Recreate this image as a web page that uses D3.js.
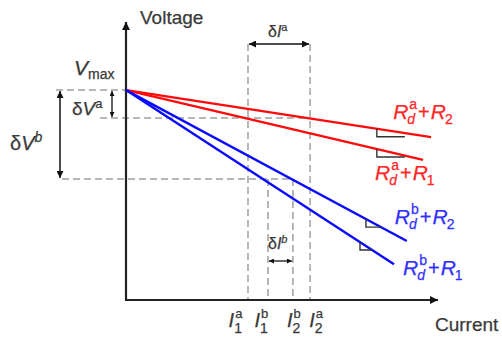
<!DOCTYPE html>
<html>
<head>
<meta charset="utf-8">
<script src="https://cdn.jsdelivr.net/npm/d3@7"></script>
<style>
  body { margin: 0; background: #fff; }
  svg { display: block; }
</style>
</head>
<body>
<svg id="chart"></svg>
<script>
// values (arbitrary units, current 0-10, voltage 0-10)
var tickSubs = ["1", "1", "2", "2"];
var tickSups = ["a", "b", "b", "a"];
var tickCurrents = [3.91, 4.55, 5.35, 5.90];     // I1a, I1b, I2b, I2a
var vMax = 7.55;
var vLevels = [6.55, 4.35];                       // Vmax - dVa, Vmax - dVb
var lineSups = ["a", "a", "b", "b"];
var lineSubs = ["2", "1", "2", "1"];
var lineColors = ["#ff0a0a", "#ff0a0a", "#0a0aff", "#0a0aff"];
var labelColors = ["#ff2626", "#ff2626", "#3030ff", "#3030ff"];
var lineEndCurrents = [9.78, 9.52, 9.00, 8.59];
var lineEndVoltages = [5.86, 5.04, 2.12, 1.29];
var markerCurrents = [8.04, 8.04, 7.69, 7.50];

// layout bits
var labelOffsets = [[-38, -18], [-48, 20], [-12, -17], [9, 11]];
var W = 502, H = 337;
var FONT = "'Liberation Sans', Arial, sans-serif";
var TXT = "#3a3a3a";

var svg = d3.select("#chart").attr("width", W).attr("height", H);
var x = d3.scaleLinear().domain([0, 10]).range([126, 438]);
var y = d3.scaleLinear().domain([0, 10]).range([300, 22]);

var defs = svg.append("defs");
function arrowMarker(id, w, h) {
  defs.append("marker")
      .attr("id", id)
      .attr("viewBox", "0 0 10 10")
      .attr("refX", 10).attr("refY", 5)
      .attr("markerUnits", "userSpaceOnUse")
      .attr("markerWidth", w).attr("markerHeight", h)
      .attr("orient", "auto-start-reverse")
    .append("path")
      .attr("d", "M0,0L10,5L0,10z")
      .attr("fill", "#111");
}
arrowMarker("axisHead", 11, 8);
arrowMarker("dHead", 8, 7);
arrowMarker("tinyHead", 6, 5);

// rich text: parts drawn one after another, "stack" puts a part above the previous one
function richText(g, px, py, parts, color) {
  var cursor = 0, prevStart = 0;
  parts.forEach(function(p){
    var start = p.stack ? prevStart : cursor;
    var t = g.append("text")
        .attr("x", px + start + (p.dx || 0))
        .attr("y", py + (p.dy || 0))
        .attr("font-family", FONT)
        .attr("font-size", p.size)
        .attr("font-style", p.italic ? "italic" : "normal")
        .attr("fill", color)
        .attr("stroke", color)
        .attr("stroke-width", 0.25)
        .text(p.t);
    var w = t.node().getComputedTextLength() + (p.dx || 0);
    if (!p.stack) prevStart = start;
    cursor = Math.max(cursor, start + w);
  });
  return cursor;
}

// dashed guides
var dash = svg.append("g")
    .attr("stroke", "#a0a0a0")
    .attr("stroke-width", 1.5)
    .attr("stroke-dasharray", "7,4")
    .attr("fill", "none");

var dVbX = 60, dVaX = 112, dIaY = 44, dIbY = 261;

dash.append("line")
    .attr("x1", dVbX - 4).attr("x2", x(0))
    .attr("y1", y(vMax)).attr("y2", y(vMax));
dash.append("line")
    .attr("x1", dVaX - 12).attr("x2", x(tickCurrents[3]))
    .attr("y1", y(vLevels[0])).attr("y2", y(vLevels[0]));
dash.append("line")
    .attr("x1", dVbX + 2).attr("x2", x(tickCurrents[2]))
    .attr("y1", y(vLevels[1])).attr("y2", y(vLevels[1]));

dash.selectAll("line.v")
    .data(tickCurrents)
    .enter().append("line")
    .attr("class", "v")
    .attr("x1", d => x(d)).attr("x2", d => x(d))
    .attr("y1", (d, i) => (i === 0 || i === 3) ? dIaY : y(vLevels[1]))
    .attr("y2", y(0));

// axes
svg.append("line")
    .attr("x1", x(0)).attr("y1", y(0))
    .attr("x2", x(0)).attr("y2", y(10))
    .attr("stroke", "#222").attr("stroke-width", 2.2)
    .attr("marker-end", "url(#axisHead)");
svg.append("line")
    .attr("x1", x(0) - 1).attr("y1", y(0))
    .attr("x2", x(10)).attr("y2", y(0))
    .attr("stroke", "#222").attr("stroke-width", 2.2)
    .attr("marker-end", "url(#axisHead)");

// load lines
var lineGen = d3.line().x(d => x(d[0])).y(d => y(d[1]));
var series = lineEndCurrents.map(function(c, i){
  return { pts: [[0, vMax], [c, lineEndVoltages[i]]], i: i };
});
svg.selectAll("path.load")
    .data(series)
    .enter().append("path")
    .attr("class", "load")
    .attr("d", d => lineGen(d.pts))
    .attr("fill", "none")
    .attr("stroke", d => lineColors[d.i])
    .attr("stroke-width", 2.4);

// slope markers
svg.selectAll("path.slope")
    .data(series)
    .enter().append("path")
    .attr("class", "slope")
    .attr("fill", "none")
    .attr("stroke", "#333")
    .attr("stroke-width", 1.4)
    .attr("d", function(d){
      var s = (lineEndVoltages[d.i] - vMax) / lineEndCurrents[d.i];
      var mc = markerCurrents[d.i];
      var px = x(mc), py = y(vMax + s * mc);
      var slopePx = (y(vMax + s) - y(vMax)) / (x(1) - x(0));
      var h = 8, w = Math.min(h / slopePx, 28);
      return "M" + px + "," + py + "V" + (py + h) + "H" + (px + w);
    });

// line labels
series.forEach(function(d){
  var ex = x(lineEndCurrents[d.i]) + labelOffsets[d.i][0];
  var ey = y(lineEndVoltages[d.i]) + labelOffsets[d.i][1];
  richText(svg.append("g"), ex, ey, [
    { t: "R", size: 21, italic: true },
    { t: "d", size: 14, italic: true, dy: 5, dx: -1 },
    { t: lineSups[d.i], size: 14, dy: -10, stack: true, dx: 1 },
    { t: "+", size: 20, dx: 1 },
    { t: "R", size: 21, italic: true, dx: 1 },
    { t: lineSubs[d.i], size: 14, dy: 5, dx: -1 }
  ], labelColors[d.i]);
});

// current tick labels, spread a little apart
var tickPx = tickCurrents.map(d => x(d));
var mid = d3.mean(tickPx);
tickCurrents.forEach(function(d, i){
  var g = svg.append("g");
  var w = richText(g, 0, 327, [
    { t: "I", size: 20, italic: true },
    { t: tickSubs[i], size: 14, dy: 6, dx: 0 },
    { t: tickSups[i], size: 13, dy: -9, stack: true, dx: 1 }
  ], TXT);
  var cx = mid + 1.3 * (tickPx[i] - mid) - 3;
  g.attr("transform", "translate(" + (cx - w / 2) + ",0)");
});

// double arrows
svg.append("line")
    .attr("x1", dVaX).attr("x2", dVaX)
    .attr("y1", y(vMax) + 1).attr("y2", y(vLevels[0]) - 1)
    .attr("stroke", "#111").attr("stroke-width", 1.3)
    .attr("marker-start", "url(#tinyHead)").attr("marker-end", "url(#tinyHead)");
svg.append("line")
    .attr("x1", dVbX).attr("x2", dVbX)
    .attr("y1", y(vMax) + 1).attr("y2", y(vLevels[1]) - 1)
    .attr("stroke", "#111").attr("stroke-width", 1.5)
    .attr("marker-start", "url(#dHead)").attr("marker-end", "url(#dHead)");
svg.append("line")
    .attr("x1", x(tickCurrents[0]) + 1).attr("x2", x(tickCurrents[3]) - 1)
    .attr("y1", dIaY).attr("y2", dIaY)
    .attr("stroke", "#111").attr("stroke-width", 1.5)
    .attr("marker-start", "url(#dHead)").attr("marker-end", "url(#dHead)");
svg.append("line")
    .attr("x1", x(tickCurrents[1]) + 1).attr("x2", x(tickCurrents[2]) - 1)
    .attr("y1", dIbY).attr("y2", dIbY)
    .attr("stroke", "#111").attr("stroke-width", 1.3)
    .attr("marker-start", "url(#tinyHead)").attr("marker-end", "url(#tinyHead)");

// annotations
richText(svg.append("g"), 140, 24, [{ t: "Voltage", size: 19 }], TXT);
richText(svg.append("g"), 435, 331, [{ t: "Current", size: 19 }], TXT);
richText(svg.append("g"), 74, 75, [
  { t: "V", size: 21, italic: true },
  { t: "max", size: 14, dy: 4, dx: 0 }
], TXT);
richText(svg.append("g"), 72, 115, [
  { t: "δ", size: 19 },
  { t: "V", size: 19, italic: true },
  { t: "a", size: 13, dy: -7, dx: 0 }
], TXT);
richText(svg.append("g"), 10, 150, [
  { t: "δ", size: 20 },
  { t: "V", size: 20, italic: true },
  { t: "b", size: 14, italic: true, dy: -8, dx: 0 }
], TXT);
richText(svg.append("g"), 268, 37, [
  { t: "δ", size: 16 },
  { t: "I", size: 16, italic: true },
  { t: "a", size: 11, dy: -6, dx: 0 }
], TXT);
richText(svg.append("g"), 268, 249, [
  { t: "δ", size: 16 },
  { t: "I", size: 16, italic: true },
  { t: "b", size: 11, italic: true, dy: -6, dx: 0 }
], TXT);
</script>
</body>
</html>
